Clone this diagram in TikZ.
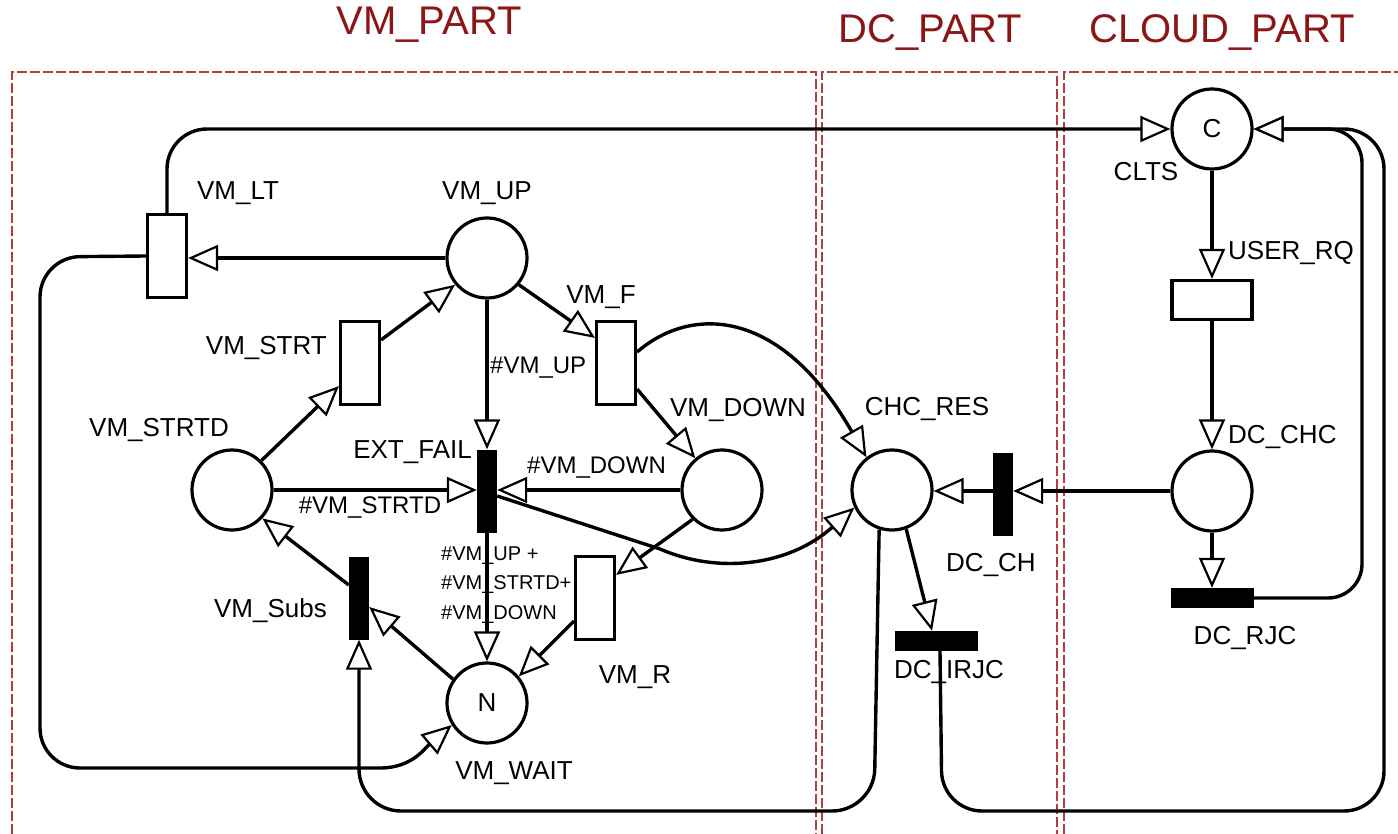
\documentclass[tikz,border=0pt]{standalone}
\usepackage{fontspec}
\setmainfont{Liberation Sans}
\usetikzlibrary{arrows.meta,calc}
\newcommand\lblfont{\fontsize{26}{30}\selectfont}
\newcommand\hshfont{\fontsize{24}{28}\selectfont}
\newcommand\stkfont{\fontsize{20}{29.5}\selectfont}
\newcommand\ttlfont{\fontsize{40}{46}\selectfont}
\definecolor{partred}{RGB}{178,62,62}
\definecolor{titlered}{RGB}{140,22,22}
\begin{document}
\begin{tikzpicture}[x=1pt,y=-1pt,
  place/.style={circle,draw,line width=3.2pt,minimum size=80pt,inner sep=0pt,font=\lblfont},
  wtr/.style={rectangle,draw,fill=white,line width=3.2pt,minimum width=39pt,minimum height=83pt,inner sep=0pt},
  btr/.style={rectangle,fill=black,minimum width=20pt,minimum height=83pt,inner sep=0pt},
  btrh/.style={rectangle,fill=black,minimum width=83pt,minimum height=20pt,inner sep=0pt},
  arc/.style={line width=3.4pt,-{Triangle[length=30pt,width=26pt,fill=white,line width=2.2pt]}},
  lab/.style={font=\lblfont,inner sep=0pt},
  hlab/.style={font=\hshfont,inner sep=0pt},
  stk/.style={font=\stkfont,inner sep=0pt,align=left},
  ttl/.style={font=\ttlfont,text=titlered,inner sep=0pt},
  partbox/.style={draw=partred,line width=1.8pt,dash pattern=on 10pt off 3pt}
]
\useasboundingbox (0,0) rectangle (1398,834);

% part boxes
\draw[partbox] (12,834) -- (12,72) -- (816,72) -- (816,834);
\draw[partbox] (822,834) -- (822,72) -- (1057,72) -- (1057,834);
\draw[partbox] (1064,834) -- (1064,72) -- (1398,72);

% titles
\node[ttl] (tvm) at (429,25) {VM\_PART};
\node[ttl] (tdc) at (930,33) {DC\_PART};
\node[ttl] (tcl) at (1222,33) {CLOUD\_PART};

% places
\node[place] (vmup) at (487,258) {};
\node[place] (strtd) at (232,490) {};
\node[place] (down) at (722,490) {};
\node[place] (wait) at (487,703) {N};
\node[place] (chc) at (892,490) {};
\node[place] (dcchc) at (1212,491) {};
\node[place] (clts) at (1212,129) {C};

% transitions
\node[wtr] (vmlt) at (167,256) {};
\node[wtr] (vmstrt) at (360,363) {};
\node[wtr] (vmf) at (616,363) {};
\node[wtr] (vmr) at (595,598) {};
\node[wtr,minimum width=80pt,minimum height=39pt] (userrq) at (1212,300) {};
\node[btr] (ext) at (487,491) {};
\node[btr] (subs) at (359,598) {};
\node[btr] (dcch) at (1003,494) {};
\node[btrh] (dcrjc) at (1212,598) {};
\node[btrh] (dcirjc) at (936,641) {};

% arcs
\draw[arc] (vmup.west) -- (vmup.west -| vmlt.east);
\draw[arc,rounded corners=40pt] (vmlt.north) |- (clts.west);
\draw[arc] (vmlt.west) [rounded corners=40pt] -- (40,257) -- (40,768) [sharp corners] -- (380,768)
  .. controls (412,768) and (425,748) .. (wait.212);
\draw[arc] (strtd.45) -- ($(vmstrt.south west)+(0,-20)$);
\draw[arc] ($(vmstrt.north east)+(0,20)$) -- (vmup.220);
\draw[arc] (vmup.-40) -- ($(vmf.north west)+(0,18)$);
\draw[arc] (vmup) -- (ext);
\draw[arc] ($(vmf.south east)+(0,-17)$) -- (down.130);
\draw[arc] ($(vmf.east)+(0,-11)$) .. controls (690,306) and (780,306) .. (chc.128);
\draw[arc] (strtd.east) -- (strtd.east -| ext.west);
\draw[arc] (down.west) -- (down.west -| ext.east);
\draw[arc] ($(ext.east)+(0,5)$) -- (660,549) .. controls (720,575) and (790,565) .. (chc.205);
\draw[arc] (ext) -- (wait);
\draw[arc] (down.225) -- ($(vmr.north east)+(0,20)$);
\draw[arc] ($(vmr.west)+(0,23)$) -- (wait.40);
\draw[arc] (wait.145) -- ($(subs.east)+(0,9)$);
\draw[arc] ($(subs.west)+(0,-13)$) -- (strtd.-43);
\draw[arc,rounded corners=42pt] (chc.252) -- (874,811) -- (359,811) -- (subs.south);
\draw[arc] (chc.-70) -- ($(dcirjc.north)+(-4,0)$);
\draw[arc,rounded corners=40pt] ($(dcirjc.south)+(4,0)$) -- (942,811) -- (1384,811) -- (1384,129) -- (clts.east);
\draw[arc,rounded corners=34pt] (dcrjc.east) -- (1362,598) -- (1362,129) -- (clts.east);
\draw[arc] (clts) -- (userrq);
\draw[arc] (userrq) -- (dcchc);
\draw[arc] (dcchc.west) -- (dcchc.west -| dcch.east);
\draw[arc] (dcch.west |- dcchc.west) -- (chc.east |- dcchc.west);
\draw[arc] (dcchc) -- (dcrjc);

% labels
\node[lab] (lvmlt) at (238,193) {VM\_LT};
\node[lab] (lvmup) at (487,193) {VM\_UP};
\node[lab,anchor=east] (lvmstrt) at (327,348) {VM\_STRT};
\node[lab] (lvmf) at (601,297) {VM\_F};
\node[hlab,anchor=west] (lhup) at (490,368) {\#VM\_UP};
\node[lab] (ldown) at (738,410) {VM\_DOWN};
\node[lab] (lstrtd) at (159,430) {VM\_STRTD};
\node[lab,anchor=east] (lext) at (472,452) {EXT\_FAIL};
\node[hlab,anchor=west] (lhdown) at (527,468) {\#VM\_DOWN};
\node[hlab] (lhstrtd) at (370,508) {\#VM\_STRTD};
\node[stk,anchor=west] (lsum) at (441,585) {\#VM\_UP +\\\#VM\_STRTD+\\\#VM\_DOWN};
\node[lab,anchor=east] (lsubs) at (327,611) {VM\_Subs};
\node[lab] (lvmr) at (635,677) {VM\_R};
\node[lab] (lwait) at (514,773) {VM\_WAIT};
\node[lab] (lchc) at (927,409) {CHC\_RES};
\node[lab] (lclts) at (1146,172) {CLTS};
\node[lab,anchor=west] (luser) at (1228,253) {USER\_RQ};
\node[lab,anchor=west] (ldcchc) at (1228,437) {DC\_CHC};
\node[lab] (ldcch) at (991,565) {DC\_CH};
\node[lab] (ldcrjc) at (1245,638) {DC\_RJC};
\node[lab] (ldcirjc) at (949,672) {DC\_IRJC};
\end{tikzpicture}
\end{document}
